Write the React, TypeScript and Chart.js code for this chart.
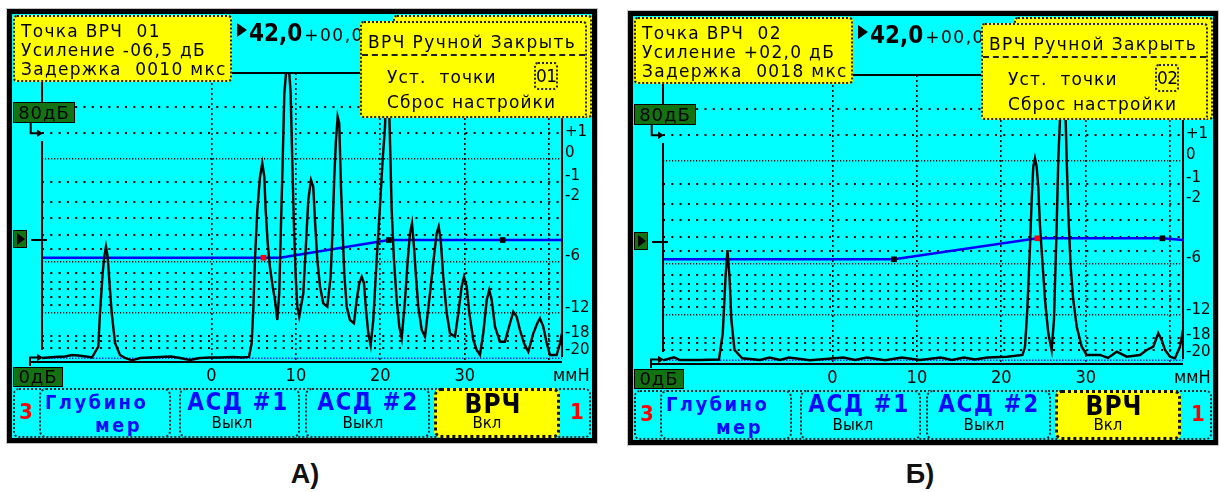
import React, { useEffect, useRef } from "react";
import { Chart, registerables } from "chart.js";

Chart.register(...registerables);

const SCR = "'DejaVu Sans', 'Liberation Sans', sans-serif";
const COND = "'DejaVu Sans Condensed', 'DejaVu Sans', sans-serif";
const CYAN = "#00ffff";
const YELLOW = "#ffff00";
const GREEN = "#137313";
const BLUE_TEXT = "#0a0aff";

// axis ranges: depth in mm, amplitude in % of screen height
const X_MIN = -20.08;
const X_MAX = 41.53;
const Y_MIN = -1.3;
const Y_MAX = 100;

const xTickValues = [0, 10, 20, 30, 40];
const xTickLabels = ["0", "10", "20", "30", ""];
const dbLabelLevels = [79.4, 71.9, 63.7, 56.7, 35.9, 17.6, 8.8, 2.9];
const dbLabels = ["+1", "0", "-1", "-2", "-6", "-12", "-18", "-20"];
const sparseGridLevels = [88.0, 78.9, 61.9, 54.9, 49.1, 43.2, 38.2, 30.0, 26.8, 24.2, 21.4, 18.7, 7.8, 6.2, 3.5];
const denseGridLevels = [70.1, 33.9, 16.1];

// Panel A (point 01) A-scan
const signalA_mm = [
  -20.08, -18.54, -17.36, -16.53, -15.82, -14.87, -14.16, -13.41, -13.21, -12.89, -12.7, -12.5, -12.3, -12.11,
  -11.82, -11.43, -10.84, -10.25, -9.42, -8.47, -7.29, -6.1, -4.8, -3.73, -2.55, -1.36, -0.18, 1.01, 2.55, 3.61,
  4.44, 4.76, 4.95, 5.15, 5.43, 5.75, 6.02, 6.26, 6.42, 6.66, 6.92, 7.25, 7.52, 7.8, 8.03, 8.23, 8.44, 8.63, 8.83,
  9.22, 9.38, 9.57, 9.77, 9.98, 10.17, 10.4, 10.88, 11.2, 11.47, 11.79, 12.06, 12.26, 12.54, 12.86, 13.25, 13.72,
  14.12, 14.36, 14.55, 14.75, 14.95, 15.14, 15.34, 15.55, 15.73, 16.02, 16.41, 16.88, 17.2, 17.51, 17.8, 18.07,
  18.31, 18.58, 18.86, 19.17, 19.57, 19.96, 20.28, 20.56, 20.73, 20.97, 21.09, 21.35, 21.62, 21.94, 22.25, 22.54,
  22.93, 23.25, 23.52, 23.76, 23.99, 24.23, 24.5, 24.91, 25.3, 25.89, 26.4, 26.68, 26.92, 27.16, 27.46, 27.87,
  28.26, 28.85, 29.24, 29.64, 29.92, 30.24, 30.55, 31.02, 31.42, 31.81, 32.2, 32.61, 32.91, 33.2, 33.59, 34.18,
  34.77, 35.37, 35.76, 36.16, 36.55, 37.03, 37.54, 38.13, 38.6, 38.92, 39.31, 39.72, 40.11, 40.9, 41.29, 41.53,
];
const signalA_amp = [
  0.1, 0.46, 0.63, 1.16, 0.98, 0.63, 0.28, 4.07, 15.88, 29.9, 35.61, 39.12, 35.61, 27.44,
  15.88, 5.36, 1.16, 0.11, -0.7, 0.1, 0.28, 0.46, 0.63, 0.1, -0.6, 0.1, 0.28, 0.28, 0.46, 0.28,
  0.46, 5.26, 16.93, 34.45, 52.0, 63.65, 68.35, 63.65, 52.0, 40.41, 32.11, 25.1, 20.43, 13.42, 22.89, 46.13, 69.51, 92.88, 100,
  100, 92.88, 69.51, 46.13, 28.6, 18.09, 14.58, 22.78, 40.31, 55.49, 62.5, 60.15, 48.48, 34.45, 25.1, 19.28, 18.09,
  28.6, 46.13, 63.65, 76.52, 84.68, 82.37, 60.15, 43.81, 29.79, 18.09, 13.42, 12.27, 20.43, 26.29, 28.6, 26.29,
  16.93, 8.76, 4.66, 13.42, 34.45, 53.14, 69.51, 81.18, 100, 100, 83.54, 52.0, 34.45, 20.43, 11.08, 7.01,
  20.43, 34.45, 43.81, 47.32, 39.12, 28.6, 18.09, 9.92, 7.57, 22.78, 36.8, 43.81, 46.13, 41.46, 28.6, 15.77,
  8.76, 7.57, 15.77, 25.1, 28.6, 25.1, 15.77, 6.41, 2.91, 1.16, 8.76, 20.43, 23.94, 20.43, 11.08, 5.82,
  5.82, 12.27, 16.33, 14.58, 9.92, 5.26, 2.31, 8.76, 12.27, 14.02, 11.08, 5.26, 1.16, 1.16, 5.26, 8.76,
];
const tvgA_mm = [-20.08, 6.16, 8.12, 21.03, 34.5, 41.53];
const tvgA_amp = [35.26, 35.26, 35.26, 41.46, 41.46, 41.46];
const nodesA_mm = [6.16, 21.03, 34.5];
const nodesA_amp = [35.26, 41.46, 41.46];
const nodesA_color = ["#ff0000", "#000000", "#000000"];

// Panel B (point 02) A-scan
const signalB_mm = [
  -20.08, -18.78, -18.07, -15.7, -13.45, -13.0, -12.67, -12.44, -12.2, -11.98, -11.61, -10.69, -8.59, -7.46,
  -6.22, -5.15, -2.67, 1.3, 2.67, 4.06, 6.22, 8.21, 10.37, 12.82, 14.16, 15.58, 16.88, 18.35, 20.68, 22.51,
  22.81, 23.08, 23.4, 23.6, 23.79, 23.99, 24.19, 24.38, 24.59, 24.86, 25.18, 25.57, 25.97, 26.24, 26.56, 26.75,
  26.95, 27.13, 27.49, 27.75, 27.94, 28.22, 28.53, 28.94, 29.53, 30.12, 31.69, 32.64, 33.67, 34.86, 36.43,
  37.23, 38.01, 38.6, 39.0, 39.4, 39.99, 40.58, 41.17, 41.53,
];
const signalB_amp = [
  0, 1.05, 0.1, 0.1, 0.28, 9.46, 29.3, 38.66, 29.3, 14.13, 3.61, 0.7, 0.1, 0.98,
  0.1, 0.98, 0, 0.98, 0.1, 0.98, 0, 0.98, 0.1, 0.98, 0.1, 0.98, 0.28, 0.98, 1.26, 1.86,
  4.77, 17.63, 39.82, 56.19, 67.86, 70.8, 67.86, 60.85, 46.83, 35.16, 21.14, 9.46, 3.61, 14.13, 46.83, 70.2,
  84.2, 100, 100, 70.2, 51.52, 32.81, 21.14, 11.78, 4.77, 1.86, 1.86, 0.81, 3.01, 1.26, 1.86,
  3.61, 4.77, 9.46, 7.12, 3.61, 1.26, 0.7, 4.77, 10.62,
];
const tvgB_mm = [-20.08, 7.29, 24.27, 39.09, 41.53];
const tvgB_amp = [35.4, 35.4, 42.76, 42.76, 42.17];
const nodesB_mm = [7.29, 24.27, 39.09];
const nodesB_amp = [35.4, 42.76, 42.76];
const nodesB_color = ["#000000", "#ff0000", "#000000"];

const baseline_mm = [X_MIN, X_MAX];
const baseline_amp = [0, 0];

const zip = (xs: number[], ys: number[]) => xs.map((x, i) => ({ x, y: ys[i] }));

const framePlugin = {
  id: "frame",
  beforeDatasetsDraw(chart: any) {
    const { ctx, chartArea: a } = chart;
    ctx.save();
    ctx.strokeStyle = "#000";
    ctx.lineWidth = 2;
    ctx.beginPath();
    ctx.moveTo(a.left, a.top);
    ctx.lineTo(a.right, a.top);
    ctx.lineTo(a.right, a.bottom - 5);
    ctx.moveTo(a.left - 12, a.bottom);
    ctx.lineTo(a.right, a.bottom);
    ctx.stroke();
    ctx.restore();
  },
};

type PanelProps = {
  left: number;
  top: number;
  sigMm: number[];
  sigAmp: number[];
  tvgMm: number[];
  tvgAmp: number[];
  nodeMm: number[];
  nodeAmp: number[];
  nodeColor: string[];
  pointNo: string;
  gain: string;
  delay: string;
};

function gridAxis(levels: number[], dash: number[], width: number, position: "left" | "right") {
  return {
    type: "linear" as const,
    position,
    min: Y_MIN,
    max: Y_MAX,
    afterBuildTicks: (s: any) => {
      s.ticks = levels.map((v) => ({ value: v }));
    },
    afterFit: (s: any) => {
      s.width = 0;
    },
    grid: { color: "#000", lineWidth: width, drawTicks: false },
    border: { display: false, dash },
    ticks: { display: false },
  };
}

function Panel(p: PanelProps) {
  const ref = useRef<HTMLCanvasElement>(null);
  useEffect(() => {
    const chart = new Chart(ref.current as HTMLCanvasElement, {
      type: "line",
      data: {
        datasets: [
          {
            data: zip(p.nodeMm, p.nodeAmp),
            showLine: false,
            pointStyle: "rect",
            pointRadius: 4,
            pointBorderWidth: 0,
            pointBackgroundColor: p.nodeColor,
            borderWidth: 0,
          },
          {
            data: zip(p.sigMm, p.sigAmp),
            borderColor: "#000",
            borderWidth: 2.4,
            pointRadius: 0,
            tension: 0,
          },
          {
            data: zip(p.tvgMm, p.tvgAmp),
            borderColor: "#0000ff",
            borderWidth: 2.5,
            pointRadius: 0,
            tension: 0,
          },
          {
            data: zip(baseline_mm, baseline_amp),
            borderColor: "#2a2aff",
            borderWidth: 1.5,
            borderDash: [1.5, 1.5],
            pointRadius: 0,
          },
        ],
      },
      options: {
        animation: false,
        responsive: false,
        events: [],
        layout: { padding: { left: 30, top: 59, right: 0, bottom: 0 } },
        plugins: { legend: { display: false }, tooltip: { enabled: false } },
        scales: {
          x: {
            type: "linear",
            min: X_MIN,
            max: X_MAX,
            afterBuildTicks: (s: any) => {
              s.ticks = xTickValues.map((v) => ({ value: v }));
            },
            afterFit: (s: any) => {
              s.height = 76;
            },
            grid: { color: "#000", lineWidth: 1.6, drawTicks: false },
            border: { display: false, dash: [2, 3] },
            ticks: {
              autoSkip: false,
              maxRotation: 0,
              padding: 4,
              color: "#000",
              font: { family: COND, size: 18 },
              callback: (_v: any, i: number) => xTickLabels[i],
            },
          },
          y: gridAxis(sparseGridLevels, [2, 6.3], 2, "left"),
          yDense: gridAxis(denseGridLevels, [1.2, 1.8], 1.4, "left"),
          yR: {
            type: "linear",
            position: "right",
            min: Y_MIN,
            max: Y_MAX,
            afterBuildTicks: (s: any) => {
              s.ticks = dbLabelLevels.map((v) => ({ value: v }));
            },
            afterFit: (s: any) => {
              s.width = 30;
            },
            grid: { drawOnChartArea: false, drawTicks: false },
            border: { display: false },
            ticks: {
              autoSkip: false,
              padding: 3,
              color: "#000",
              font: { family: SCR, size: 15 },
              callback: (_v: any, i: number) => dbLabels[i],
            },
          },
        },
      },
      plugins: [framePlugin],
    } as any);
    return () => chart.destroy();
  }, []);

  const yellowBox = (l: number, t: number, w: number, h: number): React.CSSProperties => ({
    position: "absolute",
    left: l,
    top: t,
    width: w,
    height: h,
    background: YELLOW,
    border: "2px dotted #222",
    borderRadius: 4,
    boxSizing: "border-box",
  });
  const txt = (l: number, cy: number, size: number, extra: React.CSSProperties = {}): React.CSSProperties => ({
    position: "absolute",
    left: l,
    top: cy - 10,
    lineHeight: "20px",
    font: `${size}px ${SCR}`,
    whiteSpace: "pre",
    color: "#000",
    ...extra,
  });
  const centered = (cx: number, cy: number, font: string, color: string, extra: React.CSSProperties = {}): React.CSSProperties => ({
    position: "absolute",
    left: cx - 70,
    width: 140,
    top: cy - 14,
    lineHeight: "28px",
    textAlign: "center",
    font,
    color,
    whiteSpace: "pre",
    ...extra,
  });
  const btn = (l: number, w: number, bg: string, border: string): React.CSSProperties => ({
    position: "absolute",
    left: l,
    top: 374,
    width: w,
    height: 50,
    background: bg,
    border,
    borderRadius: 7,
    boxSizing: "border-box",
  });
  const greenBox = (l: number, t: number, w: number, h: number): React.CSSProperties => ({
    position: "absolute",
    left: l,
    top: t,
    width: w,
    height: h,
    background: GREEN,
    border: "1px solid #000",
    boxSizing: "border-box",
    font: `18px ${SCR}`,
    letterSpacing: "1px",
    color: "#000",
    lineHeight: `${h - 2}px`,
    textAlign: "center",
  });

  return (
    <div
      style={{
        position: "absolute",
        left: p.left,
        top: p.top,
        width: 590,
        height: 434,
        border: "5px solid #000",
        boxSizing: "border-box",
        background: CYAN,
        boxShadow: "0 0 0 1px #c4c4c4",
      }}
    >
      <canvas ref={ref} width={580} height={424} style={{ position: "absolute", left: 0, top: 0, width: 580, height: 424 }} />
      <svg width={580} height={424} style={{ position: "absolute", left: 0, top: 0 }}>
        <g stroke="#000" strokeWidth={2} fill="none">
          <path d="M30 68 V88 M30 127 V336" />
          <path d="M18.7 109 V119.3 H27" />
          <path d="M18 352 V343.5 H27" />
          <path d="M19 226 H35" />
        </g>
        <polygon points="25,115.5 31,119.3 25,123" fill="#000" />
        <polygon points="25,339.7 31,343.5 25,347.3" fill="#000" />
      </svg>

      {/* gate marker */}
      <div style={greenBox(1, 216, 14, 18)}>
        <div style={{ position: "absolute", left: 3, top: 2, width: 0, height: 0, borderLeft: "8px solid #000", borderTop: "6px solid transparent", borderBottom: "6px solid transparent" }} />
      </div>
      <div style={greenBox(1, 88, 62, 21)}>80дБ</div>
      <div style={greenBox(1, 353, 50, 20)}>0дБ</div>
      <div style={{ position: "absolute", left: 541, top: 350, font: `18px ${COND}`, lineHeight: "22px", color: "#000" }}>ммН</div>

      {/* gain readout */}
      <div style={{ position: "absolute", left: 225, top: 9, width: 0, height: 0, borderLeft: "10px solid #000", borderTop: "7px solid transparent", borderBottom: "7px solid transparent" }} />
      <div style={{ position: "absolute", left: 237, top: 5, lineHeight: "24px", whiteSpace: "pre", color: "#000", font: `bold 24px ${COND}` }}>
        42,0
        <span style={{ font: `17px ${SCR}`, letterSpacing: "1.5px", marginLeft: 2 }}>+00,0 дБ</span>
      </div>

      {/* info box */}
      <div
        style={{
          ...yellowBox(1, 1, 219, 67),
          font: `17px ${SCR}`,
          letterSpacing: "1.3px",
          lineHeight: "19px",
          padding: "5px 0 0 6px",
          whiteSpace: "pre",
          color: "#000",
        }}
      >
        {`Точка ВРЧ  ${p.pointNo}\nУсиление ${p.gain} дБ\nЗадержка  ${p.delay} мкс`}
      </div>

      {/* menu */}
      <div style={yellowBox(381, 1, 199, 103)} />
      <div style={yellowBox(348, 7, 227, 97)}>
        <div style={txt(6, 19, 17, { letterSpacing: "1.4px" })}>ВРЧ Ручной Закрыть</div>
        <div style={{ position: "absolute", left: 0, right: 0, top: 31, borderTop: "2px dashed #222" }} />
        <div style={txt(25, 54, 17, { letterSpacing: "1.1px" })}>Уст.  точки</div>
        <div
          style={{
            position: "absolute",
            left: 172,
            top: 39,
            width: 24,
            height: 28,
            border: "2px dotted #222",
            borderRadius: 4,
            boxSizing: "border-box",
            font: `17px ${SCR}`,
            letterSpacing: "-0.5px",
            lineHeight: "24px",
            textAlign: "center",
            color: "#000",
          }}
        >
          {p.pointNo}
        </div>
        <div style={txt(25, 79, 17, { letterSpacing: "1.1px" })}>Сброс настройки</div>
      </div>

      {/* soft buttons */}
      <div style={{ position: "absolute", left: 1, top: 374, width: 578, height: 50, border: "2px dotted #2a2a2a", borderRadius: 6, boxSizing: "border-box" }} />
      <div style={centered(14, 399, `bold 22px ${COND}`, "#ff0000")}>3</div>
      <div style={btn(27, 132, CYAN, "2px dotted #2a2a2a")} />
      <div style={{ position: "absolute", left: 33, top: 376, lineHeight: "22px", font: `bold 20px ${COND}`, letterSpacing: "2.4px", color: BLUE_TEXT }}>Глубино</div>
      <div style={{ position: "absolute", left: 83, top: 399, lineHeight: "22px", font: `bold 20px ${COND}`, letterSpacing: "2.4px", color: BLUE_TEXT }}>мер</div>
      <div style={btn(167, 121, CYAN, "2px dotted #2a2a2a")} />
      <div style={centered(226, 388, `bold 24px ${COND}`, BLUE_TEXT, { letterSpacing: "1.5px" })}>АСД #1</div>
      <div style={centered(220, 414, `15px ${SCR}`, "#000")}>Выкл</div>
      <div style={btn(293, 125, CYAN, "2px dotted #2a2a2a")} />
      <div style={centered(356, 388, `bold 24px ${COND}`, BLUE_TEXT, { letterSpacing: "1.5px" })}>АСД #2</div>
      <div style={centered(351, 414, `15px ${SCR}`, "#000")}>Выкл</div>
      <div style={btn(422, 126, YELLOW, "3px dotted #111")} />
      <div style={centered(481, 389, `bold 26px ${COND}`, "#000", { letterSpacing: "1px" })}>ВРЧ</div>
      <div style={centered(475, 414, `15px ${SCR}`, "#000")}>Вкл</div>
      <div style={centered(565, 399, `bold 22px ${COND}`, "#ff0000")}>1</div>
    </div>
  );
}

export default function App() {
  return (
    <div style={{ position: "absolute", left: 0, top: 0, width: 1220, height: 492, background: "#fff", overflow: "hidden" }}>
      <Panel
        left={7}
        top={9}
        sigMm={signalA_mm}
        sigAmp={signalA_amp}
        tvgMm={tvgA_mm}
        tvgAmp={tvgA_amp}
        nodeMm={nodesA_mm}
        nodeAmp={nodesA_amp}
        nodeColor={nodesA_color}
        pointNo="01"
        gain="-06,5"
        delay="0010"
      />
      <Panel
        left={628}
        top={11}
        sigMm={signalB_mm}
        sigAmp={signalB_amp}
        tvgMm={tvgB_mm}
        tvgAmp={tvgB_amp}
        nodeMm={nodesB_mm}
        nodeAmp={nodesB_amp}
        nodeColor={nodesB_color}
        pointNo="02"
        gain="+02,0"
        delay="0018"
      />
      <div style={{ position: "absolute", left: 265, top: 460, width: 80, textAlign: "center", font: "bold 27px 'Liberation Sans', Arial, sans-serif", lineHeight: "28px", color: "#111" }}>А)</div>
      <div style={{ position: "absolute", left: 880, top: 460, width: 80, textAlign: "center", font: "bold 27px 'Liberation Sans', Arial, sans-serif", lineHeight: "28px", color: "#111" }}>Б)</div>
    </div>
  );
}
